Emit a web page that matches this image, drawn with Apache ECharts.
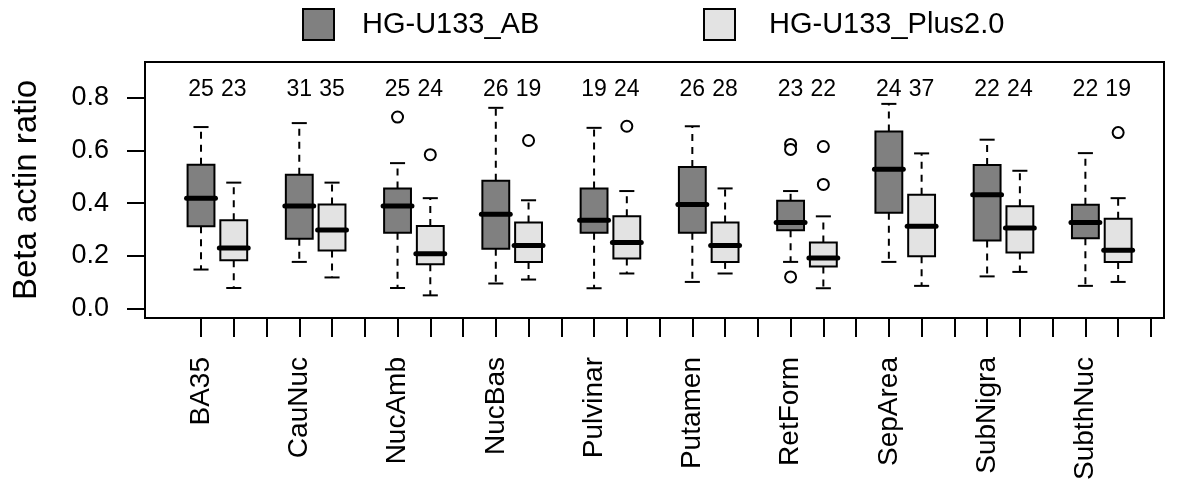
<!DOCTYPE html>
<html>
<head>
<meta charset="utf-8">
<script src="https://cdn.jsdelivr.net/npm/echarts@6/dist/echarts.min.js"></script>
<style>
  html, body { margin: 0; padding: 0; background: #fff; }
  #chart { width: 1200px; height: 494px; }
</style>
</head>
<body>
<div id="chart"></div>
<script>
const regions = ['BA35', 'CauNuc', 'NucAmb', 'NucBas', 'Pulvinar', 'Putamen', 'RetForm', 'SepArea', 'SubNigra', 'SubthNuc']

// [min, Q1, median, Q3, max] per region
const abStats = [
  [0.148, 0.312, 0.419, 0.546, 0.689],
  [0.177, 0.265, 0.389, 0.508, 0.704],
  [0.078, 0.288, 0.389, 0.456, 0.552],
  [0.095, 0.227, 0.358, 0.485, 0.762],
  [0.077, 0.288, 0.335, 0.456, 0.686],
  [0.101, 0.288, 0.395, 0.537, 0.692],
  [0.177, 0.297, 0.327, 0.409, 0.446],
  [0.177, 0.364, 0.529, 0.672, 0.777],
  [0.122, 0.258, 0.432, 0.545, 0.641],
  [0.086, 0.267, 0.327, 0.394, 0.590]
]
const plusStats = [
  [0.078, 0.183, 0.230, 0.335, 0.478],
  [0.118, 0.220, 0.298, 0.395, 0.478],
  [0.050, 0.168, 0.208, 0.313, 0.419],
  [0.110, 0.177, 0.239, 0.327, 0.411],
  [0.133, 0.190, 0.251, 0.350, 0.446],
  [0.133, 0.177, 0.239, 0.327, 0.456],
  [0.077, 0.160, 0.192, 0.251, 0.350],
  [0.086, 0.198, 0.312, 0.432, 0.589],
  [0.139, 0.213, 0.306, 0.388, 0.523],
  [0.101, 0.177, 0.221, 0.341, 0.419]
]

// [region index, value]
const abOutliers = [[2, 0.727], [6, 0.623], [6, 0.604], [6, 0.120]]
const plusOutliers = [[2, 0.584], [3, 0.638], [4, 0.692], [6, 0.615], [6, 0.471], [9, 0.668]]

const abCounts = [25, 31, 25, 26, 19, 26, 23, 24, 22, 22]
const plusCounts = [23, 35, 24, 19, 24, 28, 22, 37, 24, 19]

const yTicks = [0, 0.2, 0.4, 0.6, 0.8]

const FONT = 'Liberation Sans'
const COUNT_Y = 0.83
// slot layout: AB at 3i+1, Plus at 3i+2, gap at 3i+3
const abPos = (i) => 3 * i + 1
const plusPos = (i) => 3 * i + 2
const slotTicks = Array.from({ length: 30 }, (_, k) => k + 1)

const boxRenderer = (fill) => (params, api) => {
  const x = api.value(0)
  const [cx, yLo] = api.coord([x, api.value(1)])
  const yQ1 = api.coord([x, api.value(2)])[1]
  const yMed = api.coord([x, api.value(3)])[1]
  const yQ3 = api.coord([x, api.value(4)])[1]
  const yHi = api.coord([x, api.value(5)])[1]
  const unit = api.size([1, 0])[0]
  const half = unit * 0.41
  const cap = unit * 0.23
  const dash = { stroke: '#000', lineWidth: 2, lineDash: [7, 6] }
  const solid = { stroke: '#000', lineWidth: 2 }
  return {
    type: 'group',
    children: [
      { type: 'line', shape: { x1: cx, y1: yQ1, x2: cx, y2: yLo }, style: dash },
      { type: 'line', shape: { x1: cx, y1: yQ3, x2: cx, y2: yHi }, style: dash },
      { type: 'line', shape: { x1: cx - cap, y1: yLo, x2: cx + cap, y2: yLo }, style: solid },
      { type: 'line', shape: { x1: cx - cap, y1: yHi, x2: cx + cap, y2: yHi }, style: solid },
      { type: 'rect', shape: { x: cx - half, y: yQ3, width: half * 2, height: yQ1 - yQ3 }, style: { fill, stroke: '#000', lineWidth: 2 } },
      { type: 'line', shape: { x1: cx - half - 1, y1: yMed, x2: cx + half + 1, y2: yMed }, style: { stroke: '#000', lineWidth: 5, lineCap: 'round' } }
    ]
  }
}

const countRenderer = (params, api) => {
  const pt = api.coord([api.value(0), COUNT_Y])
  return {
    type: 'text',
    x: pt[0],
    y: pt[1],
    style: { text: String(api.value(1)), fill: '#000', font: '23px ' + FONT, align: 'center', verticalAlign: 'middle' }
  }
}

const legendBase = {
  orient: 'horizontal',
  top: 8,
  padding: 0,
  itemWidth: 31,
  itemHeight: 31,
  selectedMode: false
}

const chart = echarts.init(document.getElementById('chart'), null, { renderer: 'canvas' })

chart.setOption({
  backgroundColor: '#fff',
  animation: false,
  legend: [
    Object.assign({}, legendBase, {
      left: 302,
      textStyle: { fontSize: 29, fontFamily: FONT, color: '#000', padding: [0, 0, 0, 23] },
      data: [{ name: 'HG-U133_AB', icon: 'rect', itemStyle: { color: '#808080', borderColor: '#000', borderWidth: 2 } }]
    }),
    Object.assign({}, legendBase, {
      left: 703,
      textStyle: { fontSize: 29, fontFamily: FONT, color: '#000', padding: [0, 0, 0, 29] },
      data: [{ name: 'HG-U133_Plus2.0', icon: 'rect', itemStyle: { color: '#e3e3e3', borderColor: '#000', borderWidth: 2 } }]
    })
  ],
  grid: {
    left: 145, right: 36, top: 62, bottom: 176,
    show: true, borderColor: '#000', borderWidth: 2
  },
  xAxis: {
    type: 'value',
    min: -0.71,
    max: 30.4,
    axisLine: { show: false, onZero: false },
    splitLine: { show: false },
    axisTick: { show: true, length: 19, customValues: slotTicks, lineStyle: { color: '#000', width: 2 } },
    axisLabel: {
      customValues: regions.map((_, i) => abPos(i)),
      formatter: (v) => regions[Math.round((v - 1) / 3)],
      rotate: 90,
      margin: 39,
      padding: [7, 0, 0, 0],
      fontSize: 28,
      fontFamily: FONT,
      color: '#000'
    }
  },
  yAxis: {
    type: 'value',
    min: -0.036,
    max: 0.936,
    name: 'Beta actin ratio',
    nameLocation: 'middle',
    nameGap: 102,
    nameTextStyle: { fontSize: 33, fontFamily: FONT, color: '#000' },
    axisLine: { show: false, onZero: false },
    splitLine: { show: false },
    axisTick: { show: true, length: 18, customValues: yTicks, lineStyle: { color: '#000', width: 2 } },
    axisLabel: {
      customValues: yTicks,
      formatter: (v) => v.toFixed(1),
      margin: 36,
      fontSize: 27,
      fontFamily: FONT,
      color: '#000'
    }
  },
  series: [
    {
      name: 'HG-U133_AB',
      type: 'custom',
      renderItem: boxRenderer('#808080'),
      itemStyle: { color: '#808080' },
      encode: { x: 0, y: [1, 2, 3, 4, 5] },
      data: abStats.map((s, i) => [abPos(i)].concat(s)),
      z: 3
    },
    {
      name: 'HG-U133_Plus2.0',
      type: 'custom',
      renderItem: boxRenderer('#e3e3e3'),
      itemStyle: { color: '#e3e3e3' },
      encode: { x: 0, y: [1, 2, 3, 4, 5] },
      data: plusStats.map((s, i) => [plusPos(i)].concat(s)),
      z: 3
    },
    {
      type: 'scatter',
      symbol: 'circle',
      symbolSize: 11,
      itemStyle: { color: '#fff', borderColor: '#000', borderWidth: 2, opacity: 1 },
      data: abOutliers.map(([i, v]) => [abPos(i), v]).concat(plusOutliers.map(([i, v]) => [plusPos(i), v])),
      z: 4
    },
    {
      type: 'custom',
      renderItem: countRenderer,
      encode: { x: 0 },
      data: abCounts.map((c, i) => [abPos(i), c]).concat(plusCounts.map((c, i) => [plusPos(i), c])),
      z: 4
    }
  ]
})
</script>
</body>
</html>
